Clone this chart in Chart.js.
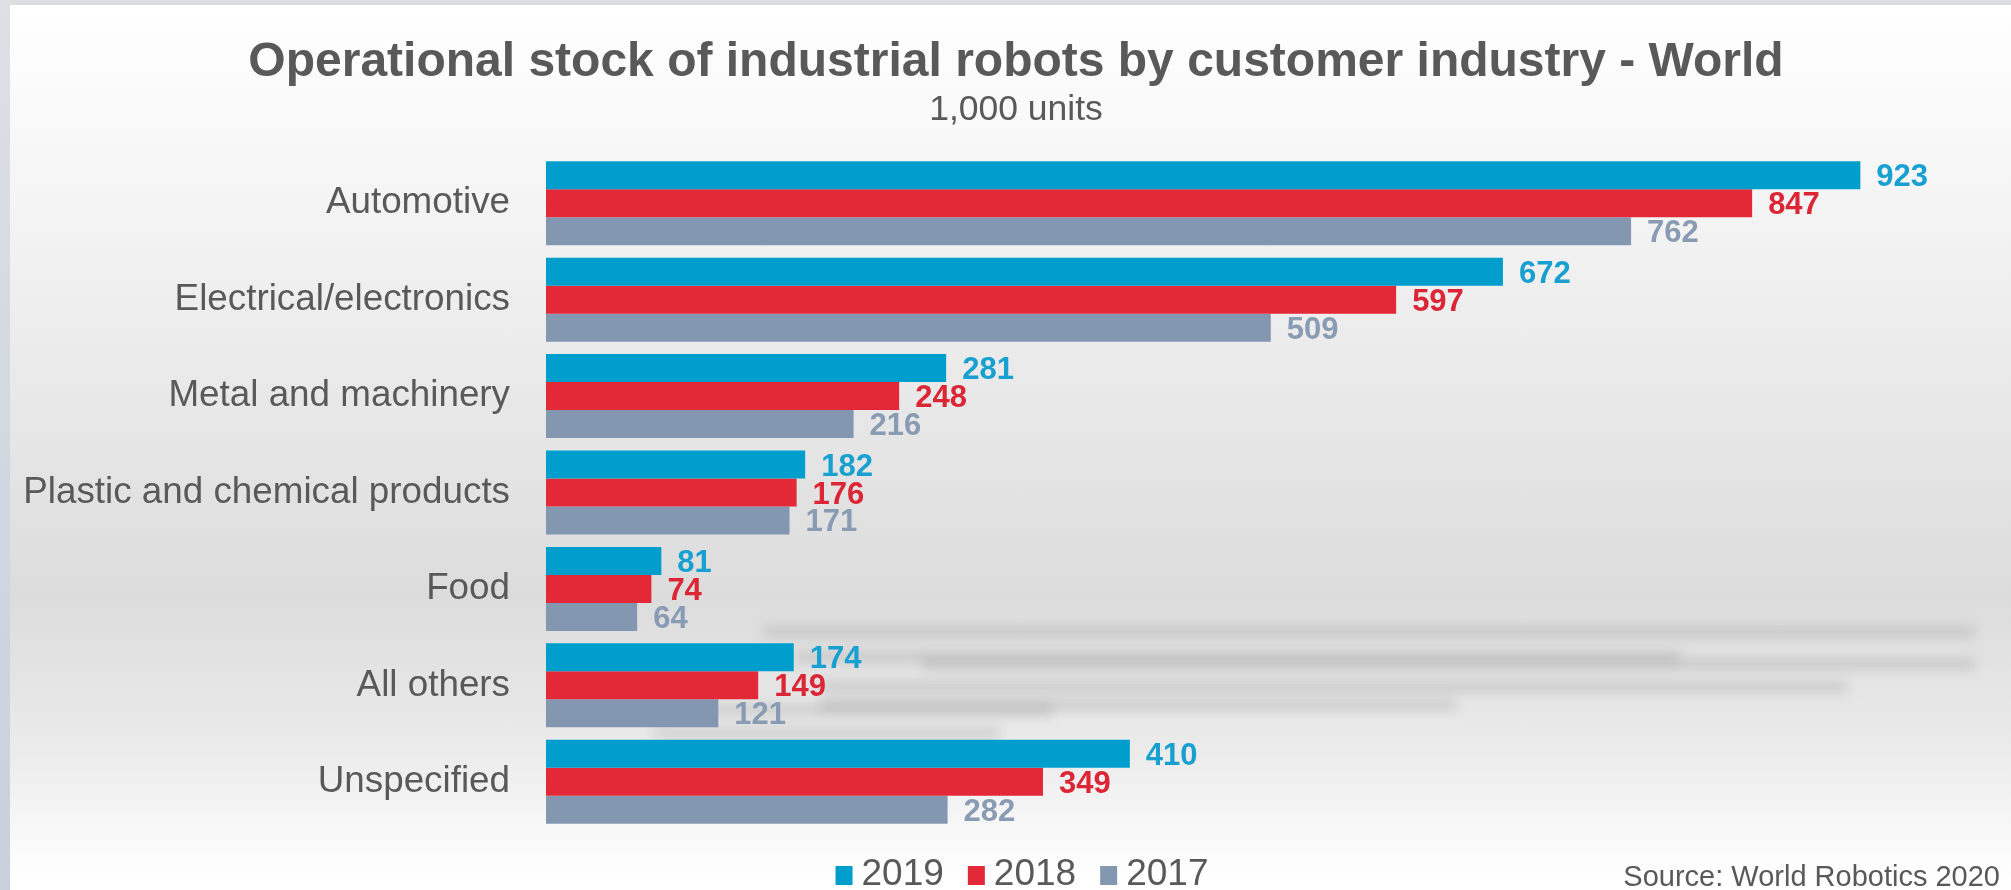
<!DOCTYPE html>
<html>
<head>
<meta charset="utf-8">
<title>Operational stock of industrial robots by customer industry - World</title>
<script src="https://cdn.jsdelivr.net/npm/chart.js@4/dist/chart.umd.min.js"></script>
<style>
    html, body { margin: 0; padding: 0; }
    body { width: 2011px; height: 890px; position: relative; overflow: hidden; background: #dcdde1; }
    .panel {
        position: absolute; left: 10px; top: 5px; right: 0; bottom: 0;
        background: linear-gradient(to bottom, #ffffff 0%, #f7f7f7 17%, #e8e8e8 45%, #dcdcdc 67%, #ebebeb 84%, #fdfdfd 97%, #ffffff 100%);
    }
    .side { position: absolute; left: 0; top: 0; width: 10px; height: 890px; background: linear-gradient(to bottom, #dde0e5, #c7d0dc); }
    /* blurred reflection streaks seen behind the lower bars */
    .ghost { position: absolute; height: 10px; background: rgba(140, 140, 140, 0.3); filter: blur(6px); }
    .wrap { position: absolute; left: 0; top: 0; width: 2011px; height: 890px; }
</style>
</head>
<body>
<div class="side"></div>
<div class="panel"></div>
<div class="ghost" style="left:763px; width:1212px; top:627px;"></div>
<div class="ghost" style="left:795px; width:885px; top:652px;"></div>
<div class="ghost" style="left:923px; width:1052px; top:659px;"></div>
<div class="ghost" style="left:821px; width:1026px; top:682px;"></div>
<div class="ghost" style="left:821px; width:635px; top:700px;"></div>
<div class="ghost" style="left:616px; width:436px; top:705px;"></div>
<div class="ghost" style="left:654px; width:346px; top:728px;"></div>
<div class="wrap"><canvas id="chart"></canvas></div>

<script>
// data (1,000 units)
const categories = ['Automotive', 'Electrical/electronics', 'Metal and machinery', 'Plastic and chemical products', 'Food', 'All others', 'Unspecified'];
const seriesNames = ['2019', '2018', '2017'];
const units2019 = [923, 672, 281, 182, 81, 174, 410];
const units2018 = [847, 597, 248, 176, 74, 149, 349];
const units2017 = [762, 509, 216, 171, 64, 121, 282];

const barColors = ['#009ecd', '#e32838', '#8497b1'];
const valueColors = ['#17a0d0', '#dc2535', '#8a9bb4'];
const FONT = '"Liberation Sans", Arial, sans-serif';
const TEXT_GREY = '#595959';

// values next to each bar
const barValueLabels = {
    id: 'barValueLabels',
    afterDatasetsDraw(chart) {
        const ctx = chart.ctx;
        ctx.save();
        ctx.font = 'bold 31px ' + FONT;
        ctx.textAlign = 'left';
        ctx.textBaseline = 'alphabetic';
        chart.data.datasets.forEach((ds, i) => {
            ctx.fillStyle = valueColors[i];
            chart.getDatasetMeta(i).data.forEach((bar, j) => {
                ctx.fillText(String(ds.data[j]), bar.x + 16, bar.y + 11);
            });
        });
        ctx.restore();
    }
};

// title, subtitle, legend and source line
const chartTexts = {
    id: 'chartTexts',
    afterDraw(chart) {
        const ctx = chart.ctx;
        ctx.save();
        ctx.fillStyle = TEXT_GREY;
        ctx.textBaseline = 'alphabetic';
        ctx.textAlign = 'center';
        ctx.font = 'bold 48px ' + FONT;
        ctx.fillText('Operational stock of industrial robots by customer industry - World', 1016, 76);
        ctx.font = '35.5px ' + FONT;
        ctx.fillText('1,000 units', 1016, 120);

        // legend
        ctx.font = '37px ' + FONT;
        ctx.textAlign = 'left';
        const box = 17, gap = 9, spacing = 24;
        const items = chart.data.datasets.map(ds => ({ label: ds.label, color: ds.backgroundColor, w: ctx.measureText(ds.label).width }));
        const total = items.reduce((s, it) => s + box + gap + it.w, 0) + spacing * (items.length - 1);
        let x = 1022 - total / 2;
        items.forEach(it => {
            ctx.fillStyle = it.color;
            ctx.fillRect(x, 866, box, 19);
            ctx.fillStyle = TEXT_GREY;
            ctx.fillText(it.label, x + box + gap, 885);
            x += box + gap + it.w + spacing;
        });

        ctx.font = '29px ' + FONT;
        ctx.textAlign = 'right';
        ctx.fillText('Source: World Robotics 2020', 2000, 886);
        ctx.restore();
    }
};

const chart = new Chart(document.getElementById('chart'), {
    type: 'bar',
    data: {
        labels: categories,
        datasets: [
            { label: seriesNames[0], data: units2019, backgroundColor: barColors[0] },
            { label: seriesNames[1], data: units2018, backgroundColor: barColors[1] },
            { label: seriesNames[2], data: units2017, backgroundColor: barColors[2] }
        ]
    },
    options: {
        indexAxis: 'y',
        responsive: true,
        maintainAspectRatio: false,
        animation: false,
        layout: { padding: { top: 155, bottom: 60, left: 0, right: 41 } },
        datasets: { bar: { categoryPercentage: 0.871, barPercentage: 1.0 } },
        plugins: {
            legend: { display: false },
            title: { display: false },
            tooltip: { enabled: false }
        },
        scales: {
            x: { display: false, min: 0, max: 1000 },
            y: {
                grid: { display: false, drawTicks: false },
                border: { display: false },
                ticks: { color: TEXT_GREY, font: { family: FONT, size: 36.8 }, padding: 36 },
                afterFit(scale) { scale.width = 546; }
            }
        }
    },
    plugins: [barValueLabels, chartTexts]
});
</script>
</body>
</html>
